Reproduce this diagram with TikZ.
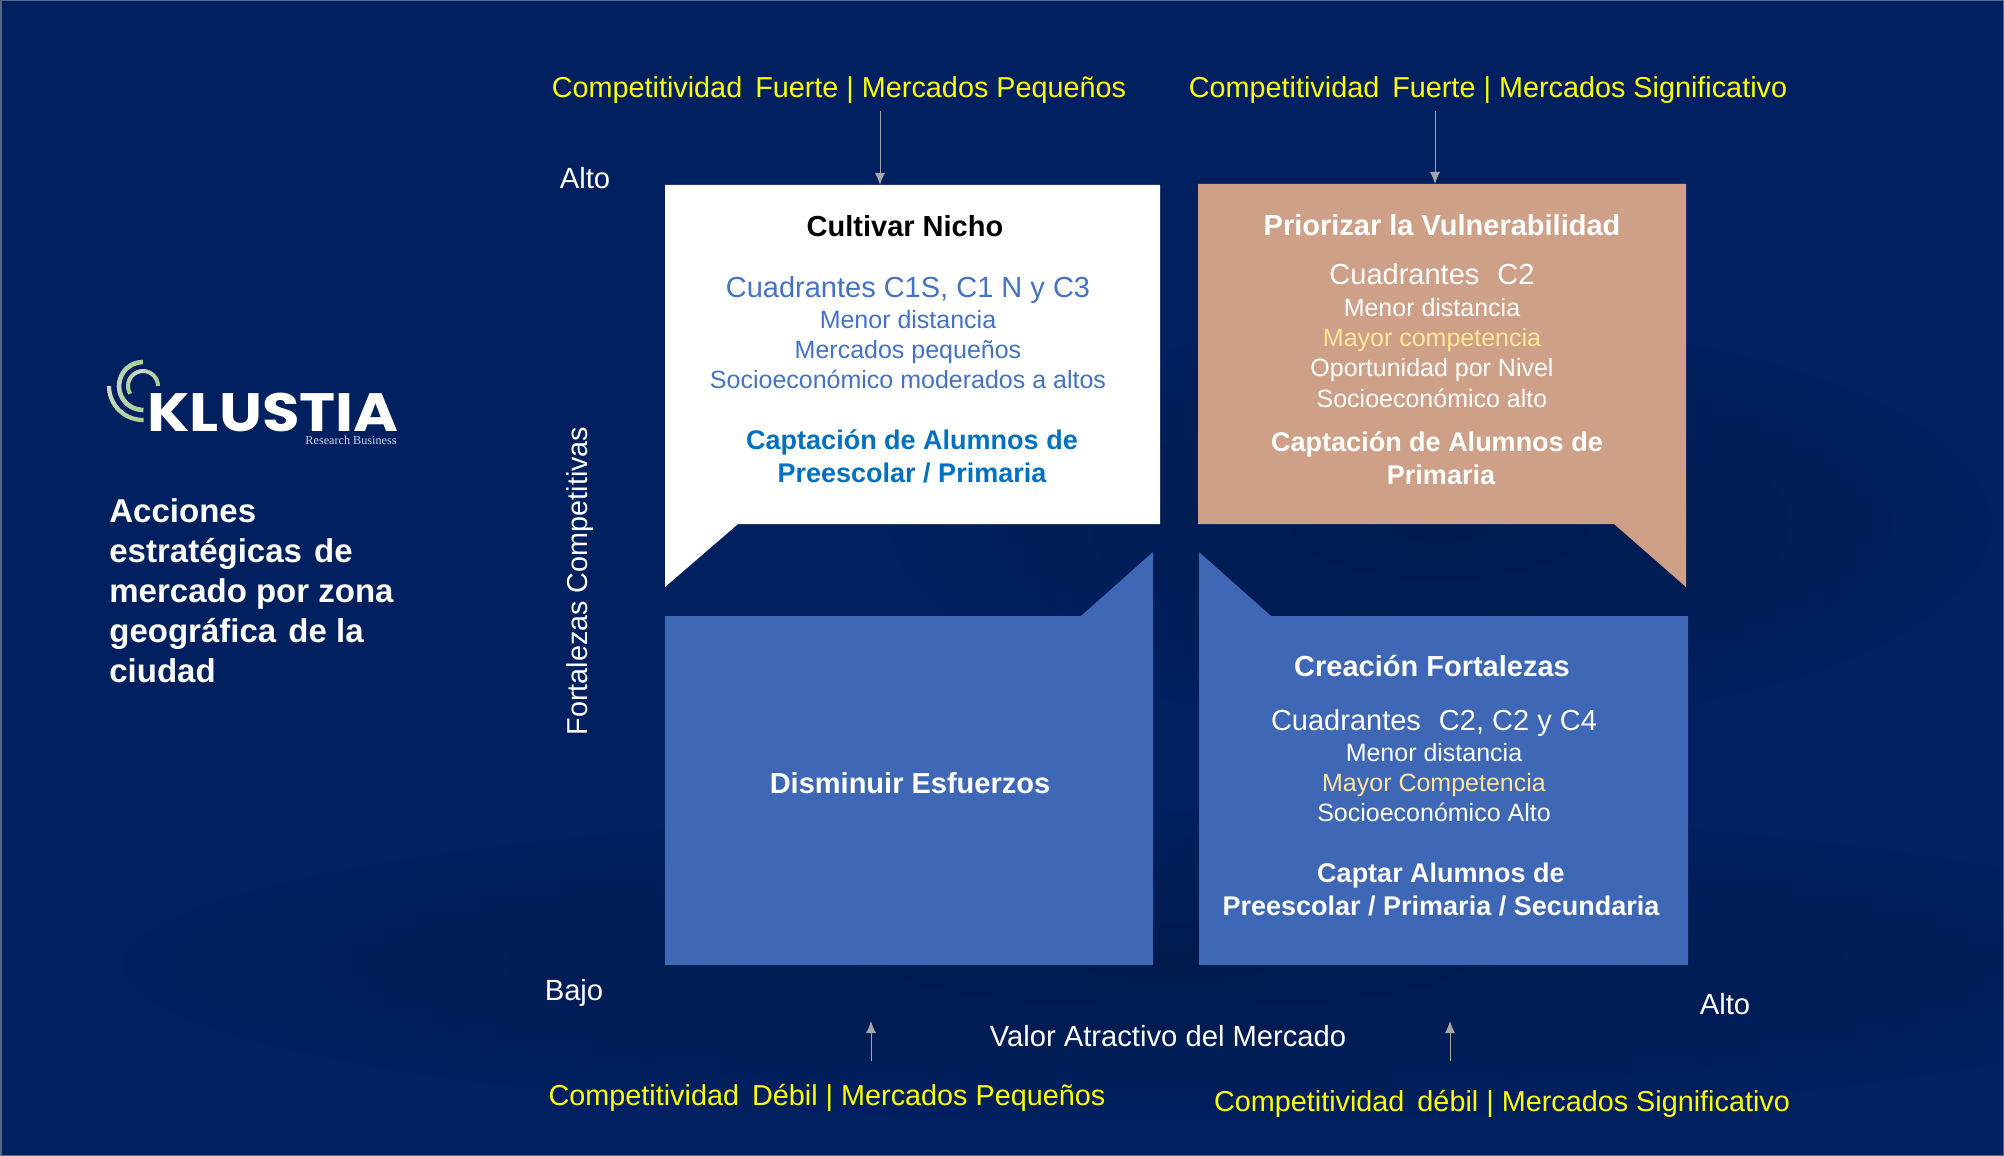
\documentclass[tikz,border=0pt]{standalone}
\usepackage{fontspec}
\setmainfont{Liberation Sans}
\newfontfamily\logofont[FakeStretch=1.13]{Poppins}
\newfontfamily\logoserif{Liberation Serif}
\usetikzlibrary{arrows.meta}
\definecolor{bgblue}{HTML}{002060}
\definecolor{shadeblue}{HTML}{001A4C}
\definecolor{boxblue}{HTML}{3E67B6}
\definecolor{boxtan}{HTML}{CFA088}
\definecolor{txtblue}{HTML}{4472C4}
\definecolor{capblue}{HTML}{0070C0}
\definecolor{cream}{HTML}{FFE699}
\definecolor{yel}{HTML}{FFFF00}
\definecolor{arrgray}{HTML}{A6A6A6}
\definecolor{arcgreen}{HTML}{A8D08D}
\definecolor{arcpale}{HTML}{D0D8CC}
\definecolor{edgegray}{HTML}{54688A}
\newcommand{\dgap}{\hspace{2.5pt}}
\newcommand{\tgap}{\hspace{1.5pt}}
\tikzset{
 yellowlabel/.style={text=yel,font=\fontsize{14.4}{18}\selectfont,inner sep=0pt,anchor=base},
 axislabel/.style={text=white,font=\fontsize{14.6}{18}\selectfont,inner sep=0pt,anchor=base},
 ttl/.style={font=\fontsize{14.5}{17}\bfseries\selectfont,inner sep=0pt,anchor=base},
 capt/.style={font=\fontsize{13.5}{17}\bfseries\selectfont,inner sep=0pt,anchor=base},
 big/.style={font=\fontsize{14.5}{18}\selectfont,inner sep=0pt,anchor=base},
 small/.style={font=\fontsize{12.5}{16}\selectfont,inner sep=0pt,anchor=base},
 lefttitle/.style={anchor=base west,text=white,font=\fontsize{16.5}{20}\bfseries\selectfont,inner sep=0pt},
 pointer/.style={draw=arrgray,line width=0.5pt,-{Latex[length=6pt,width=5pt]}},
}
\begin{document}
\begin{tikzpicture}[x=0.5pt,y=-0.5pt]
\useasboundingbox (0,0) rectangle (2004,1156);
\fill[bgblue] (0,0) rectangle (2004,1156);
% soft shadows on the background
\begin{scope}
\clip (0,0) rectangle (2004,1156);
\shade[inner color=shadeblue,outer color=bgblue] (1176,965) ellipse[x radius=1150,y radius=170];
\shade[inner color=shadeblue,outer color=bgblue] (1440,524) ellipse[x radius=600,y radius=220];
\end{scope}
\draw[edgegray,line width=1.5pt] (0,0) rectangle (2004,1156);
% boxes
\fill[white] (665,185) -- (1160,185) -- (1160,524) -- (738,524) -- (665,587) -- cycle;
\fill[boxtan] (1198,184) -- (1686,184) -- (1686,587) -- (1614,524) -- (1198,524) -- cycle;
\fill[boxblue] (665,616) -- (1081,616) -- (1153,552) -- (1153,965) -- (665,965) -- cycle;
\fill[boxblue] (1199,552) -- (1271,616) -- (1688,616) -- (1688,965) -- (1199,965) -- cycle;
% quadrant labels
\node[yellowlabel] (tl) at (839,98) {Competitividad\dgap{} Fuerte | Mercados Pequeños};
\node[yellowlabel] (tr) at (1488,98) {Competitividad\dgap{} Fuerte | Mercados Significativo};
\node[yellowlabel] (bl) at (827,1105) {Competitividad\dgap{} Débil | Mercados Pequeños};
\node[yellowlabel] (br) at (1502,1111) {Competitividad\dgap{} débil | Mercados Significativo};
\coordinate (a1) at (880,111); \coordinate (a1e) at (880,185);
\coordinate (a2) at (1435,111); \coordinate (a2e) at (1435,184);
\coordinate (a3) at (871,1061); \coordinate (a3e) at (871,1021);
\coordinate (a4) at (1450,1061); \coordinate (a4e) at (1450,1021);
\draw[pointer] (a1) -- (a1e);
\draw[pointer] (a2) -- (a2e);
\draw[pointer] (a3) -- (a3e);
\draw[pointer] (a4) -- (a4e);
% axes
\node[axislabel] (alto1) at (585,189) {Alto};
\node[axislabel] (bajo) at (574,1000) {Bajo};
\node[axislabel] (alto2) at (1725,1014) {Alto};
\node[axislabel] (valor) at (1168,1046) {Valor Atractivo del Mercado};
\node[axislabel,rotate=90,font=\fontsize{14.4}{18}\selectfont] (fort) at (587,581) {Fortalezas Competitivas};
% white box
\node[ttl,text=black] (n1) at (905,236) {Cultivar Nicho};
\node[big,text=txtblue] (n2) at (908,297) {Cuadrantes C1S, C1 N y C3};
\node[small,text=txtblue] (n3) at (908,328) {Menor distancia};
\node[small,text=txtblue] (n4) at (908,358) {Mercados pequeños};
\node[small,text=txtblue] (n5) at (908,388) {Socioeconómico moderados a altos};
\node[capt,text=capblue] (n6) at (912,449) {Captación de Alumnos de};
\node[capt,text=capblue] (n7) at (912,482) {Preescolar / Primaria};
% tan box
\node[ttl,text=white] (p1) at (1442,235) {Priorizar la Vulnerabilidad};
\node[big,text=white] (p2) at (1432,285) {Cuadrantes\dgap{}\dgap{} C2};
\node[small,text=white] (p3) at (1432,316) {Menor distancia};
\node[small,text=cream] (p4) at (1432,346) {Mayor competencia};
\node[small,text=white] (p5) at (1432,376) {Oportunidad por Nivel};
\node[small,text=white] (p6) at (1432,407) {Socioeconómico alto};
\node[capt,text=white] (p7) at (1437,451) {Captación de Alumnos de};
\node[capt,text=white] (p8) at (1441,484) {Primaria};
% lower left box
\node[ttl,text=white] (d1) at (910,793) {Disminuir Esfuerzos};
% lower right box
\node[ttl,text=white] (c1) at (1432,676) {Creación Fortalezas};
\node[big,text=white] (c2) at (1434,730) {Cuadrantes\dgap{}\dgap{} C2, C2 y C4};
\node[small,text=white] (c3) at (1434,761) {Menor distancia};
\node[small,text=cream] (c4) at (1434,791) {Mayor Competencia};
\node[small,text=white] (c5) at (1434,821) {Socioeconómico Alto};
\node[capt,text=white] (c6) at (1441,882) {Captar Alumnos de};
\node[capt,text=white] (c7) at (1441,915) {Preescolar / Primaria / Secundaria};
% left title
\node[lefttitle] (t1) at (109,522) {Acciones};
\node[lefttitle] (t2) at (109,562) {estratégicas\tgap{} de};
\node[lefttitle] (t3) at (109,602) {mercado por zona};
\node[lefttitle] (t4) at (109,642) {geográfica\tgap{} de la};
\node[lefttitle] (t5) at (109,682) {ciudad};
% logo
\node[anchor=base west,text=white,font=\logofont\bfseries\fontsize{27}{30}\selectfont,inner sep=0pt] (logo) at (147,431) {KLUSTIA};
\node[anchor=base east,text=white!80!bgblue,font=\logoserif\fontsize{6.1}{7}\selectfont,inner sep=0pt] (logosub) at (397,444) {Research Business};
% logo arcs
\foreach \a in {0,10,...,200} {
  \pgfmathsetmacro\mixp{100-abs(\a-100)}
  \draw[line width=2pt,color=arcpale!\mixp!arcgreen] ({143+15*cos(\a)},{386-15*sin(\a)}) arc[start angle={-\a},end angle={-\a-11},radius=15];
}
\foreach \a in {90,100,...,260} {
  \pgfmathsetmacro\mixp{70-0.7*abs(\a-175)}
  \draw[line width=2.3pt,color=arcpale!\mixp!arcgreen] ({143+24*cos(\a)},{386-24*sin(\a)}) arc[start angle={-\a},end angle={-\a-11},radius=24];
}
\foreach \a in {180,190,...,260} {
  \pgfmathsetmacro\mixp{100-(\a-180)*1.1}
  \draw[line width=2.1pt,color=arcpale!\mixp!arcgreen] ({143+34*cos(\a)},{386-34*sin(\a)}) arc[start angle={-\a},end angle={-\a-11},radius=34];
}
\end{tikzpicture}
\end{document}
